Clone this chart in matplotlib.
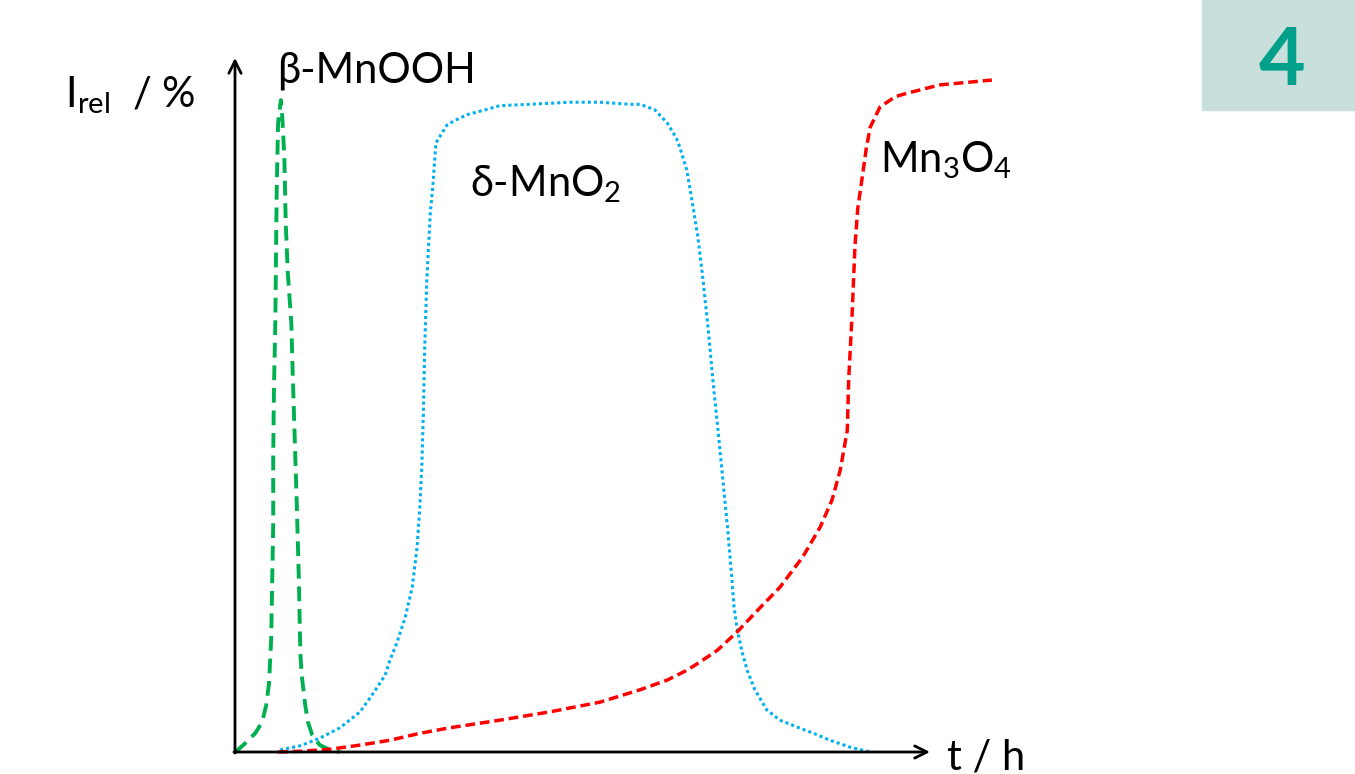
# relative intensity of Mn phases over time (sketch)

import matplotlib.pyplot as plt
from matplotlib.patches import Rectangle

plt.rcParams['font.family'] = ['Lato', 'DejaVu Sans']
plt.rcParams['mathtext.fontset'] = 'custom'
plt.rcParams['mathtext.rm'] = 'Lato'
plt.rcParams['mathtext.it'] = 'Lato'

# beta-MnOOH (green)
t_mnooh = [0, 0.4, 1.4, 2.9, 3.9, 4.5, 4.9, 5.2, 5.3, 5.5, 5.5, 5.6, 5.8, 5.9,
           6.0, 6.2, 6.6, 6.8, 7.1, 7.3, 7.6, 8.1, 8.3, 8.6, 8.9, 9.2, 9.4, 9.6,
           10.1, 10.5, 11.1, 12.2, 13.7, 15.1]
i_mnooh = [0, 0.3, 1.2, 2.7, 4.3, 6.8, 10.0, 16.2, 21.5, 33.1, 42.6, 52.3, 62.0,
           71.5, 81.2, 90.9, 94.2, 91.8, 86.0, 76.4, 69.2, 62.0, 54.8, 45.1, 35.4,
           24.4, 14.3, 11.1, 6.8, 4.3, 2.5, 1.0, 0.3, 0]

# delta-MnO2 (blue)
t_mno2 = [6.5, 9.4, 12.2, 15.1, 18.0, 19.9, 21.6, 22.3, 23.3, 24.5, 25.5, 26.2,
          26.6, 26.9, 27.1, 27.3, 27.6, 28.1, 28.5, 28.9, 30.5, 31.7, 33.4, 36.0,
          38.1, 42.4, 48.2, 52.5, 56.8, 58.3, 60.4, 62.2, 63.5, 64.0, 65.0, 65.9,
          66.6, 67.3, 68.1, 68.8, 69.5, 70.2, 70.9, 71.5, 71.8, 72.2, 72.9, 73.7,
          74.8, 76.5, 78.4, 80.9, 83.5, 85.6, 88.5, 91.4]
i_mno2 = [0.3, 0.9, 2.0, 3.5, 5.8, 8.5, 11.1, 13.3, 15.8, 19.5, 23.8, 29.6,
          35.4, 41.8, 49.0, 58.5, 68.2, 77.9, 82.2, 88.0, 90.6, 91.3, 92.1, 92.8,
          93.4, 93.6, 93.9, 93.9, 93.6, 93.6, 92.8, 90.9, 88.7, 87.4, 84.1, 78.8,
          74.4, 68.6, 61.0, 53.3, 46.5, 39.3, 32.1, 24.9, 21.0, 18.1, 14.7, 11.8,
          9.0, 6.1, 4.6, 3.6, 2.6, 1.7, 0.7, 0]

# Mn3O4 (red)
t_mn3o4 = [6.2, 9.4, 13.7, 18.0, 22.3, 26.6, 30.9, 38.1, 45.3, 52.5, 58.3, 62.2,
           65.0, 66.9, 69.4, 72.2, 75.5, 78.4, 81.7, 84.2, 85.9, 87.1, 88.1, 88.3,
           88.8, 89.2, 89.6, 90.2, 90.8, 91.4, 92.8, 95.0, 96.7, 101.4, 108.9]
i_mn3o4 = [0, 0.1, 0.4, 1.0, 1.7, 2.7, 3.5, 4.6, 5.8, 7.2, 9.0, 10.4, 11.8, 13.0,
           14.7, 17.3, 20.8, 23.8, 28.2, 32.5, 36.4, 40.8, 46.5, 53.8, 63.4, 73.0,
           78.5, 82.7, 87.0, 90.3, 93.2, 94.7, 95.2, 96.4, 97.1]

W, H = 1355, 774
fig = plt.figure(figsize=(W / 100, H / 100), dpi=100)
ax = fig.add_axes([235 / W, (H - 752) / H, (930 - 235) / W, (752 - 60) / H])
ax.set_xlim(0, 100)
ax.set_ylim(0, 100)
ax.axis('off')

ax.plot(t_mnooh, i_mnooh, color='#00B050', lw=2.8, dashes=(3.8, 2.0), clip_on=False)
ax.plot(t_mno2, i_mno2, color='#00B0F0', lw=2.2, dashes=(1.0, 1.0), clip_on=False)
ax.plot(t_mn3o4, i_mn3o4, color='#FF0000', lw=2.5, dashes=(2.8, 1.4), clip_on=False)

# axes with arrows
arrow = dict(arrowstyle='->', color='black', lw=2, mutation_scale=22, shrinkA=0, shrinkB=0)
ax.annotate('', xy=(100, 0), xytext=(-0.15, 0), arrowprops=arrow, annotation_clip=False)
ax.annotate('', xy=(0, 100.3), xytext=(0, -0.15), arrowprops=arrow, annotation_clip=False)

fs = 30
ax.text(6.0, 98.5, 'β-MnOOH', fontsize=fs, va='center', ha='left')
ax.text(33.8, 82, r'δ-MnO$_2$', fontsize=fs, va='center', ha='left')
ax.text(92.8, 85.5, r'Mn$_3$O$_4$', fontsize=fs, va='center', ha='left')
ax.text(102.5, -0.8, 't / h', fontsize=fs, va='center', ha='left')
fig.text(65 / W, 1 - 95 / H, r'I$_{\mathrm{rel}}$  / %', fontsize=fs, va='center', ha='left')

# slide number box
fig.patches.append(Rectangle((1202 / W, 1 - 110 / H), (W - 1202) / W, 110 / H,
                             transform=fig.transFigure, color='#C8DFDB', zorder=0))
fig.text(1282 / W, 1 - 62 / H, '4', fontsize=58, fontweight='bold',
         color='#00A08A', ha='center', va='center')

plt.savefig('out.png', dpi=100)
